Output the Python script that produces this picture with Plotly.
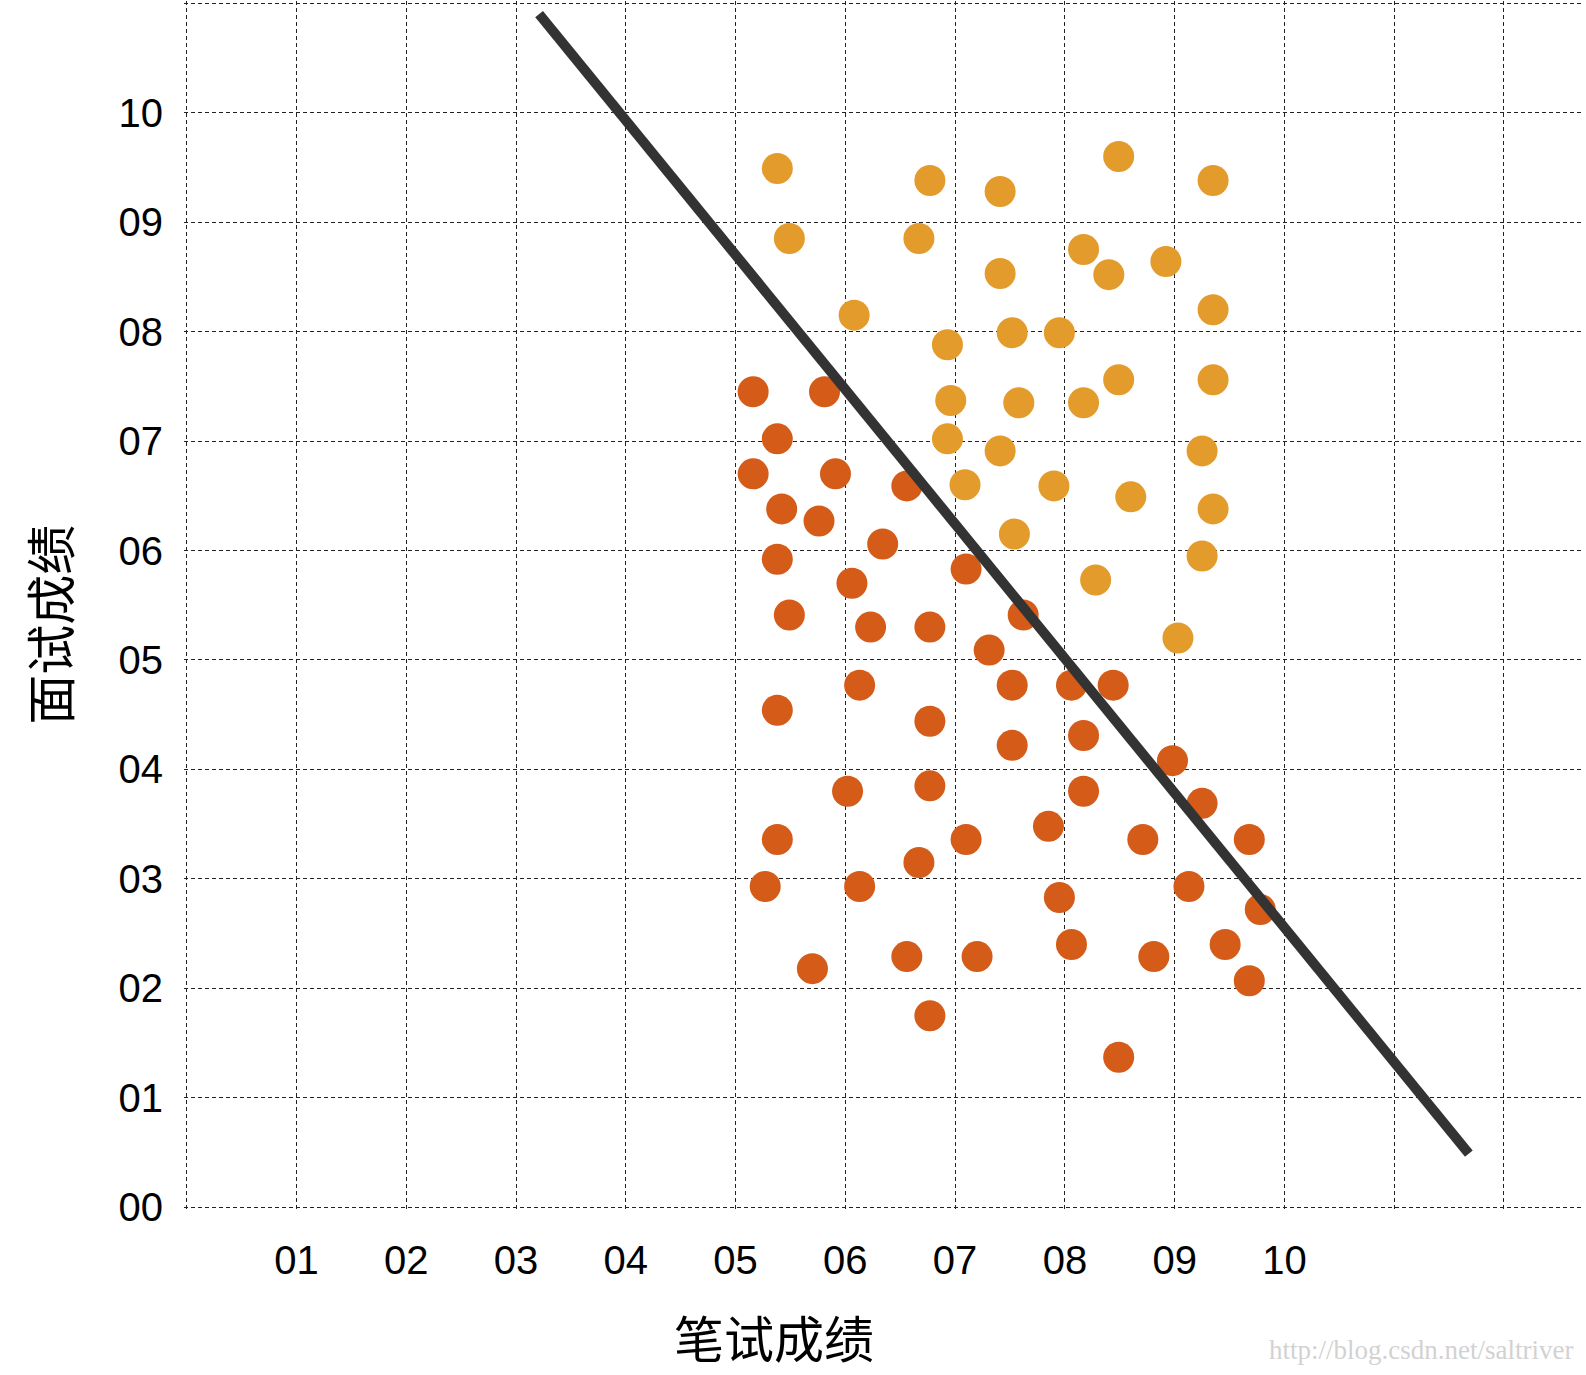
import plotly.graph_objects as go

# ---------------------------------------------------------------------------
# Data
# ---------------------------------------------------------------------------

# accepted (orange) candidates: written score, interview score
pass_x = [5.38, 6.77, 7.41, 8.49, 9.35, 5.49, 6.67, 7.41, 8.17, 8.40, 8.92,
          6.08, 9.35, 6.93, 7.52, 7.95, 8.49, 9.35, 6.96, 7.58, 8.17, 6.93,
          7.41, 9.25, 7.09, 7.90, 8.60, 9.35, 7.54, 9.25, 8.28, 9.03]
pass_y = [9.49, 9.38, 9.28, 9.60, 9.38, 8.85, 8.85, 8.53, 8.75, 8.52, 8.64,
          8.15, 8.20, 7.88, 7.99, 7.99, 7.56, 7.56, 7.37, 7.35, 7.35, 7.02,
          6.91, 6.91, 6.60, 6.59, 6.49, 6.38, 6.15, 5.95, 5.73, 5.20]

# rejected (red-orange) candidates
fail_x = [5.16, 5.81, 5.38, 5.16, 5.91, 6.56, 5.42, 5.76, 6.34, 5.38, 7.10,
          6.06, 5.49, 6.23, 6.77, 7.62, 7.31, 6.13, 7.52, 8.06, 8.44, 5.38,
          6.77, 8.17, 7.52, 8.98, 6.02, 6.77, 8.17, 9.25, 5.38, 7.10, 7.85,
          8.71, 9.68, 6.67, 5.27, 6.13, 9.13, 7.95, 9.78, 5.70, 6.56, 7.20,
          8.06, 8.81, 9.46, 9.68, 6.77, 8.49]
fail_y = [7.45, 7.45, 7.02, 6.70, 6.70, 6.59, 6.38, 6.27, 6.06, 5.92, 5.83,
          5.70, 5.41, 5.30, 5.30, 5.41, 5.09, 4.77, 4.77, 4.77, 4.77, 4.54,
          4.44, 4.31, 4.22, 4.08, 3.80, 3.85, 3.80, 3.69, 3.36, 3.36, 3.48,
          3.36, 3.36, 3.15, 2.93, 2.93, 2.93, 2.83, 2.72, 2.18, 2.29, 2.29,
          2.40, 2.29, 2.40, 2.07, 1.75, 1.37]

# decision boundary end points
boundary_x = [3.21, 11.68]
boundary_y = [10.90, 0.49]

x_tickvals = list(range(0, 13))
x_ticktext = [""] + [f"{i:02d}" for i in range(1, 11)] + ["", ""]
y_tickvals = list(range(0, 12))
y_ticktext = [f"{i:02d}" for i in range(0, 11)] + [""]

# ---------------------------------------------------------------------------
# Figure
# ---------------------------------------------------------------------------

fig = go.Figure()
fig.add_trace(go.Scatter(
    x=fail_x, y=fail_y, mode="markers",
    marker=dict(color="#D55B19", size=31, line=dict(width=0)),
))
fig.add_trace(go.Scatter(
    x=pass_x, y=pass_y, mode="markers",
    marker=dict(color="#E39B2B", size=31, line=dict(width=0)),
))
fig.add_trace(go.Scatter(
    x=boundary_x, y=boundary_y, mode="lines",
    line=dict(color="#333333", width=10),
))

grid = dict(showgrid=True, gridcolor="#222222", gridwidth=1,
            griddash="4px,3px", zeroline=False, showline=False,
            ticks="", tickfont=dict(family="Liberation Sans", size=40,
                                    color="#000000"))

fig.update_layout(
    width=1586, height=1375,
    margin=dict(l=184, r=3, t=1, b=165),
    paper_bgcolor="white", plot_bgcolor="white",
    showlegend=False,
    xaxis=dict(range=[-0.025, 12.72], tickvals=x_tickvals,
               ticktext=x_ticktext, ticklabelstandoff=23, **grid),
    yaxis=dict(range=[-0.025, 11.02], tickvals=y_tickvals,
               ticktext=y_ticktext, ticklabelstandoff=20, **grid),
    annotations=[
        dict(text="笔试成绩", xref="paper", yref="paper", x=0.422, y=0,
             yshift=-126, showarrow=False, yanchor="middle",
             font=dict(family="Noto Sans CJK SC", size=50, color="#000")),
        dict(text="面试成绩", xref="paper", yref="paper", x=0, y=0.484,
             xshift=-136, textangle=-90, showarrow=False, xanchor="center",
             font=dict(family="Noto Sans CJK SC", size=50, color="#000")),
        dict(text="http://blog.csdn.net/saltriver", xref="paper",
             yref="paper", x=1, y=0, yshift=-157, xshift=-8,
             xanchor="right", showarrow=False,
             font=dict(family="Liberation Serif", size=27, color="#d2d2d2")),
    ],
)

fig.write_html("out.html", config={"displayModeBar": False},
               post_script="document.body.style.margin='0';"
                           "document.body.style.overflow='hidden';")
